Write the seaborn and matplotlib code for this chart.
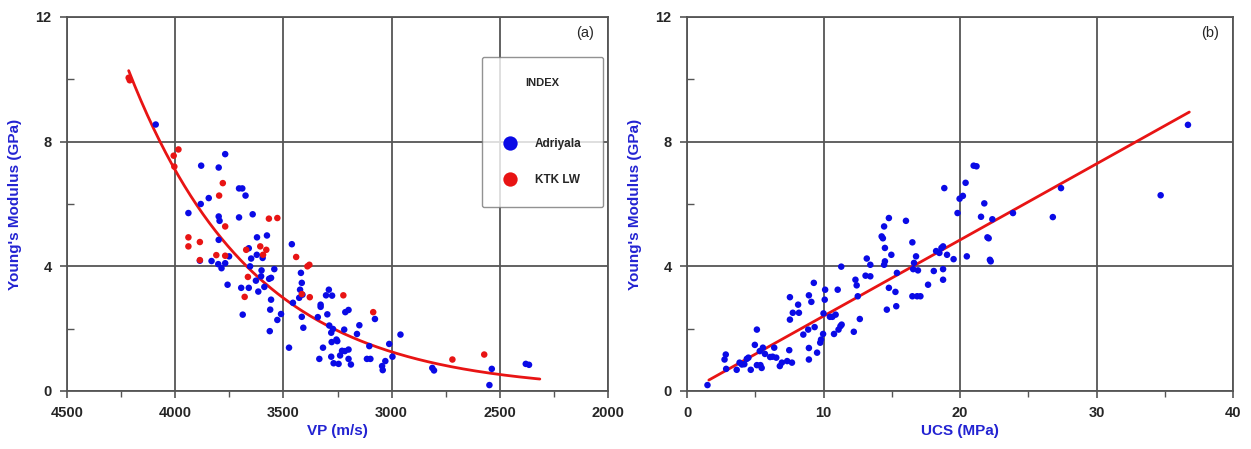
import numpy as np
import pandas as pd
import matplotlib
matplotlib.use("Agg")
import matplotlib.pyplot as plt
from matplotlib.ticker import MultipleLocator
import seaborn as sns

# ---------------- data: panel (a) ----------------
adriyala_vp = [4090, 3769, 3880, 3799, 3705, 3690, 3675, 3845, 3882, 3939, 3799, 3795, 3705, 3642,
               3622, 3576, 3799, 3461, 3660, 3886, 3832, 3801, 3786, 3751, 3769, 3649, 3623, 3596,
               3654, 3601, 3542, 3419, 3627, 3603, 3566, 3557, 3758, 3695, 3660, 3616, 3588, 3415,
               3423, 3427, 3412, 3557, 3456, 3688, 3561, 3511, 3528, 3563, 3415, 3408, 3341, 3328,
               3328, 3303, 3290, 3275, 3297, 3288, 3279, 3271, 3277, 3255, 3251, 3317, 3334, 3279,
               3268, 3245, 3238, 3229, 3219, 3214, 3199, 3216, 3199, 3199, 3188, 3149, 3160, 3114,
               3098, 3103, 3077, 3474, 3044, 3041, 3029, 3011, 2996, 2959, 2812, 2804, 2548, 2537,
               2380, 2365]
adriyala_e = [8.55, 7.60, 7.23, 7.17, 6.50, 6.50, 6.27, 6.19, 6.00, 5.71, 5.60, 5.46, 5.57, 5.67,
              4.93, 4.99, 4.85, 4.71, 4.58, 4.18, 4.17, 4.07, 3.94, 4.32, 4.10, 4.25, 4.37, 4.27,
              4.00, 3.87, 3.91, 3.79, 3.54, 3.68, 3.60, 3.63, 3.41, 3.31, 3.31, 3.19, 3.34, 3.47,
              3.25, 2.99, 3.09, 2.93, 2.83, 2.45, 2.61, 2.47, 2.28, 1.92, 2.38, 2.03, 2.37, 2.77,
              2.70, 3.07, 3.25, 3.06, 2.46, 2.10, 1.87, 1.99, 1.57, 1.65, 1.60, 1.39, 1.03, 1.10,
              0.89, 0.87, 1.14, 1.29, 1.97, 2.53, 2.60, 1.28, 1.33, 1.03, 0.85, 2.11, 1.83, 1.03,
              1.03, 1.44, 2.31, 1.39, 0.80, 0.67, 0.96, 1.51, 1.10, 1.81, 0.74, 0.66, 0.19, 0.71,
              0.87, 0.84]
ktk_vp = [4210, 4215, 3985, 4007, 4004, 3780, 3797, 3769, 3567, 3528, 3939, 3939, 3886, 3886,
          3810, 3769, 3672, 3607, 3594, 3579, 3441, 3389, 3380, 3664, 3679, 3415, 3378, 3223,
          3085, 2719, 2572]
ktk_e = [9.97, 10.05, 7.75, 7.55, 7.20, 6.67, 6.27, 5.28, 5.53, 5.55, 4.93, 4.64, 4.78, 4.20,
         4.36, 4.34, 4.53, 4.64, 4.37, 4.53, 4.30, 4.00, 4.05, 3.66, 3.02, 3.11, 3.01, 3.07,
         2.53, 1.01, 1.17]
group_names = ["Adriyala", "KTK LW"]
# exponential fit E = A * exp(B * VP)
fit_a_A, fit_a_B = 0.0070, 0.00173
fit_a_range = [4215, 2315]

# ---------------- data: panel (b) ----------------
ucs = [1.5, 2.75, 2.84, 2.87, 3.64, 3.85, 4.02, 4.2, 4.38, 4.5, 4.67, 4.97, 5.12, 5.12, 5.33,
       5.38, 5.47, 5.56, 5.71, 6.09, 6.27, 6.39, 6.54, 6.8, 6.95, 7.34, 7.49, 7.54, 7.54, 7.69,
       7.75, 8.14, 8.2, 8.52, 8.88, 8.93, 8.93, 8.93, 9.11, 9.29, 9.35, 9.53, 9.76, 9.82, 9.97,
       10.0, 10.09, 10.12, 10.47, 10.65, 10.77, 10.89, 11.04, 11.1, 11.24, 11.33, 11.3, 12.22,
       12.34, 12.43, 12.51, 12.66, 13.08, 13.17, 13.43, 13.43, 14.26, 14.35, 14.44, 14.44, 14.5,
       14.5, 14.64, 14.79, 14.79, 14.97, 15.27, 15.33, 15.38, 16.04, 16.51, 16.57, 16.63, 16.51,
       16.78, 16.86, 16.92, 17.1, 17.66, 18.08, 18.25, 18.49, 18.64, 18.76, 18.76, 18.76, 18.85,
       19.05, 19.53, 19.82, 19.97, 20.21, 20.41, 20.5, 21.0, 21.21, 21.54, 21.78, 22.01, 22.1,
       22.19, 22.25, 22.37, 23.88, 26.8, 27.4, 34.7, 36.7]
ucs_e = [0.19, 1.01, 1.17, 0.71, 0.68, 0.91, 0.85, 0.86, 1.03, 1.07, 0.68, 1.48, 1.97, 0.83, 1.28,
         0.83, 0.74, 1.39, 1.19, 1.09, 1.10, 1.39, 1.07, 0.80, 0.91, 0.96, 1.31, 2.29, 3.01, 0.91,
         2.51, 2.77, 2.51, 1.81, 1.97, 1.38, 1.01, 3.07, 2.86, 3.47, 2.05, 1.23, 1.55, 1.65, 1.83,
         2.49, 2.93, 3.25, 2.38, 2.38, 1.83, 2.45, 3.25, 1.97, 2.08, 2.13, 3.99, 1.90,
         3.57, 3.39, 3.04, 2.31, 3.70, 4.25, 4.05, 3.68, 4.96, 4.90, 5.28, 4.05, 4.59,
         4.16, 2.61, 5.55, 3.31, 4.37, 3.18, 2.72, 3.79, 5.46, 4.77, 3.91, 4.11, 3.04,
         4.32, 3.04, 3.87, 3.04, 3.41, 3.85, 4.49, 4.43, 4.59, 4.64, 3.57, 3.91, 6.51,
         4.37, 4.23, 5.71, 6.17, 6.26, 6.68, 4.32, 7.23, 7.21, 5.59, 6.02, 4.93, 4.90,
         4.21, 4.16, 5.51, 5.71, 5.58, 6.51, 6.28, 8.54]
# linear fit E = m * UCS + c
fit_b_m, fit_b_c = 0.2443, -0.04
fit_b_range = [1.6, 36.8]

# ---------------- styling ----------------
sns.set_theme(style="white")
plt.rcParams["font.family"] = ["Liberation Sans", "DejaVu Sans"]

BLUE = "#0a0ae6"
RED = "#e81414"
LABEL_BLUE = "#2323d2"
GRID = "#555555"

fig = plt.figure(figsize=(12.51, 4.49), dpi=100)
ax1 = fig.add_axes([67 / 1251, 1 - 391 / 449, (608 - 67) / 1251, (391 - 17) / 449])
ax2 = fig.add_axes([687 / 1251, 1 - 391 / 449, (1233 - 687) / 1251, (391 - 17) / 449])

df_a = pd.DataFrame({
    "VP": adriyala_vp + ktk_vp,
    "E": adriyala_e + ktk_e,
    "INDEX": [group_names[0]] * len(adriyala_vp) + [group_names[1]] * len(ktk_vp),
})
df_b = pd.DataFrame({"UCS": ucs, "E": ucs_e})

vp_line = np.linspace(fit_a_range[0], fit_a_range[1], 200)
fit_a = pd.DataFrame({"VP": vp_line, "E": fit_a_A * np.exp(fit_a_B * vp_line)})
ucs_line = np.linspace(fit_b_range[0], fit_b_range[1], 50)
fit_b = pd.DataFrame({"UCS": ucs_line, "E": fit_b_m * ucs_line + fit_b_c})

for ax in (ax1, ax2):
    ax.set_ylim(0, 12)
    ax.yaxis.set_major_locator(MultipleLocator(4))
    ax.yaxis.set_minor_locator(MultipleLocator(2))
    ax.grid(True, which="major", color=GRID, linewidth=1.3, zorder=0)
    ax.set_axisbelow(True)
    for s in ax.spines.values():
        s.set_color(GRID)
        s.set_linewidth(1.3)
    ax.tick_params(which="major", direction="out", length=5, width=1.2, color=GRID,
                   labelsize=10.5, pad=6, bottom=True, left=True)
    ax.tick_params(axis="x", which="minor", direction="out", length=4, width=1.0, color=GRID, bottom=True)
    ax.tick_params(axis="y", which="minor", direction="in", length=5, width=1.0, color=GRID, left=True)

# panel (a)
sns.lineplot(data=fit_a, x="VP", y="E", ax=ax1, color=RED, linewidth=2, sort=False, zorder=3)
sns.scatterplot(data=df_a, x="VP", y="E", hue="INDEX", palette={group_names[0]: BLUE, group_names[1]: RED},
                ax=ax1, s=22, edgecolor="none", zorder=4)
ax1.set_xlim(4500, 2000)
ax1.xaxis.set_major_locator(MultipleLocator(500))
ax1.xaxis.set_minor_locator(MultipleLocator(250))
ax1.set_xlabel("VP (m/s)", color=LABEL_BLUE, fontsize=11, fontweight="bold", labelpad=3)
ax1.set_ylabel("Young's Modulus (GPa)", color=LABEL_BLUE, fontsize=11, fontweight="bold", labelpad=10)
ax1.text(0.975, 0.975, "(a)", transform=ax1.transAxes, ha="right", va="top", fontsize=10.5)

leg = ax1.legend(title="INDEX", loc="upper right", bbox_to_anchor=(0.991, 0.893), borderaxespad=0,
                 frameon=True, fancybox=True, markerscale=2.2, labelspacing=2.0, borderpad=1.8,
                 handlelength=1.2, handletextpad=1.5, prop={"weight": "bold", "size": 8.5},
                 title_fontproperties={"weight": "bold", "size": 8})
leg.get_frame().set_edgecolor("#777777")
leg.get_frame().set_linewidth(1.0)
leg._legend_box.sep = 36

# panel (b)
sns.lineplot(data=fit_b, x="UCS", y="E", ax=ax2, color=RED, linewidth=2, zorder=3)
sns.scatterplot(data=df_b, x="UCS", y="E", ax=ax2, color=BLUE, s=22, edgecolor="none", zorder=4)
ax2.set_xlim(0, 40)
ax2.xaxis.set_major_locator(MultipleLocator(10))
ax2.xaxis.set_minor_locator(MultipleLocator(5))
ax2.set_xlabel("UCS (MPa)", color=LABEL_BLUE, fontsize=11, fontweight="bold", labelpad=3)
ax2.set_ylabel("Young's Modulus (GPa)", color=LABEL_BLUE, fontsize=11, fontweight="bold", labelpad=10)
ax2.text(0.975, 0.975, "(b)", transform=ax2.transAxes, ha="right", va="top", fontsize=10.5)

for ax in (ax1, ax2):
    for lab in ax.get_xticklabels() + ax.get_yticklabels():
        lab.set_fontweight("bold")

fig.savefig("out.png", dpi=100)
